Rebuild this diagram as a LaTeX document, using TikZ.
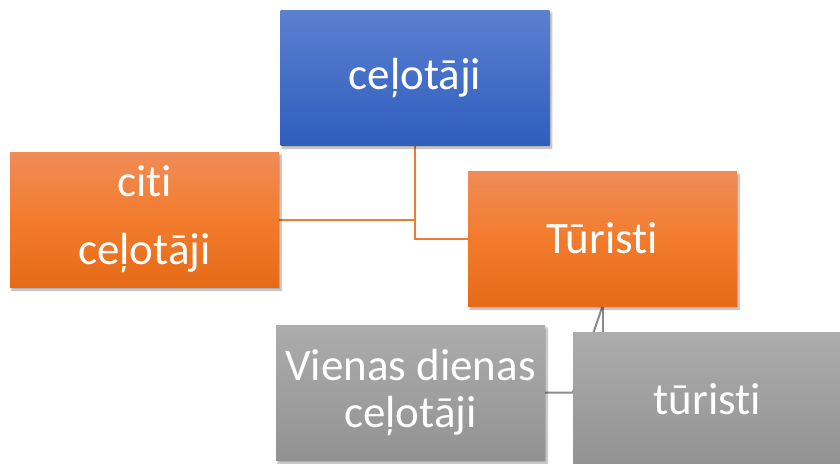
\documentclass[tikz,border=0pt]{standalone}
\usepackage{fontspec}
\setmainfont{Carlito}[Ligatures=NoCommon]
\usetikzlibrary{positioning, shadows.blur, backgrounds}
\definecolor{blueTop}{HTML}{5B80D0}
\definecolor{blueBot}{HTML}{2E5EBE}
\definecolor{orangeTop}{HTML}{F08C58}
\definecolor{orangeMid}{HTML}{F27C2C}
\definecolor{orangeBot}{HTML}{E66A18}
\definecolor{grayTop}{HTML}{ACACAC}
\definecolor{grayBot}{HTML}{929292}
\definecolor{orangeLine}{HTML}{ED7D31}
\definecolor{grayLine}{HTML}{8A8A8A}

\begin{document}
\begin{tikzpicture}[x=1pt,y=1pt,on grid,
    box/.style={rectangle, minimum width=269pt, minimum height=135pt, inner sep=0pt,
        text=white, align=center, font=\fontsize{45}{54}\selectfont,
        blur shadow={shadow xshift=2pt, shadow yshift=-3pt, shadow blur steps=6, shadow opacity=35}},
    bluebox/.style={box, top color=blueTop, bottom color=blueBot},
    orangebox/.style={box, top color=orangeTop, bottom color=orangeBot, middle color=orangeMid},
    graybox/.style={box, top color=grayTop, bottom color=grayBot},
    orangeline/.style={draw=orangeLine, line width=2pt},
    grayline/.style={draw=grayLine, line width=2pt}]
    \useasboundingbox (0,0) rectangle (840,-463);
    \clip (0,0) rectangle (840,-463);
    \node[bluebox] (celotaji) at (415,-77.5) {ceļotāji};
    \node[orangebox, font=\fontsize{45}{68}\selectfont] (citi) [below left=142pt and 270.5pt of celotaji] {citi\\ceļotāji};
    \node[orangebox] (turisti) [below right=161pt and 187.5pt of celotaji] {Tūristi};
    \node[graybox, font=\fontsize{45}{47}\selectfont] (vienas) [below left=154pt and 192pt of turisti] {Vienas dienas\\ceļotāji};
    \node[graybox] (turisti2) [below right=161pt and 105pt of turisti] {tūristi};
    \begin{scope}[on background layer]
        \draw[orangeline] (celotaji.south) |- (turisti.west);
        \draw[orangeline] (citi.east) -- (citi.east -| celotaji.south);
        \draw[grayline] (turisti.south) -- (turisti.south |- turisti2.north);
        \draw[grayline] (vienas.east) -- (vienas.east -| turisti2.west) -- (turisti.south);
    \end{scope}
\end{tikzpicture}
\end{document}
